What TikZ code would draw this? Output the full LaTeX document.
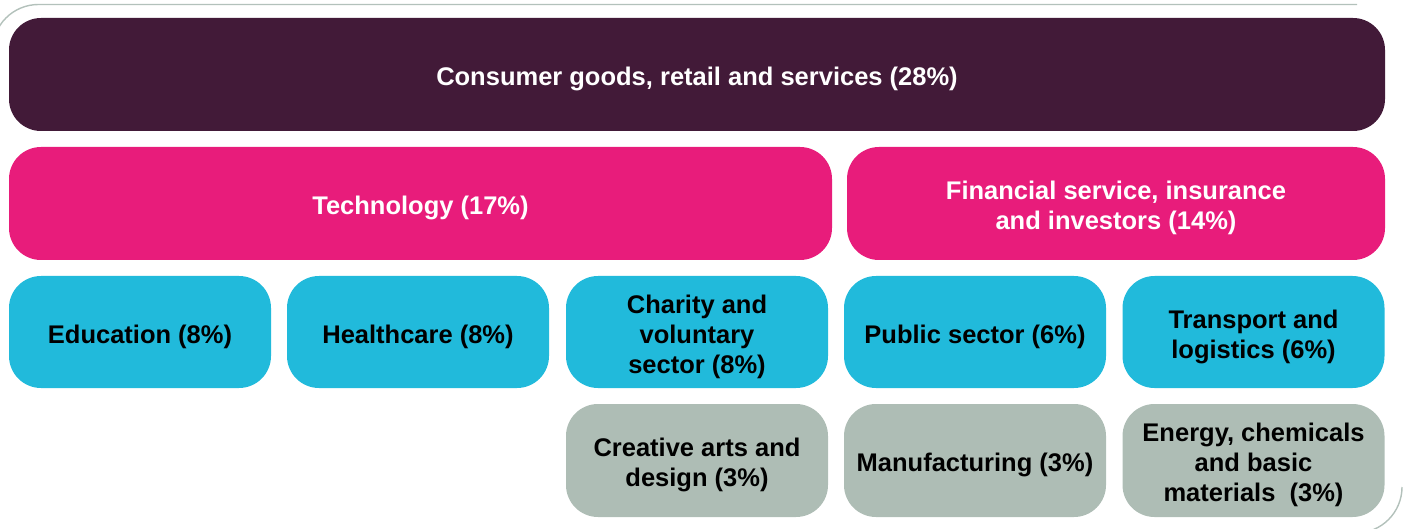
\documentclass[tikz,border=0pt]{standalone}
\usepackage{fontspec}
\setmainfont{Liberation Sans}
\definecolor{cPurple}{HTML}{421A38}
\definecolor{cPink}{HTML}{E81C7B}
\definecolor{cCyan}{HTML}{21BADB}
\definecolor{cGray}{HTML}{AEBDB5}
\definecolor{cFrame}{HTML}{B3C1BB}
\tikzset{
  box/.style={rounded corners=32pt, inner sep=0pt},
  txt/.style={inner sep=0pt, align=center, font=\fontsize{25.5}{30}\selectfont\bfseries},
  topbox/.style={box, fill=cPurple, minimum height=113pt},
  midbox/.style={box, fill=cPink, minimum height=113pt},
  cyanbox/.style={box, fill=cCyan, minimum width=262pt, minimum height=112pt},
  graybox/.style={box, fill=cGray, minimum width=262pt, minimum height=113pt},
  frame/.style={draw=cFrame, line width=1.4pt, rounded corners=46pt}
}
% #1 box style, #2 name, #3 position, #4 text colour, #5 text
\newcommand\labelledbox[5]{%
  \node[#1] (#2) at (#3) {};
  \node[txt, text=#4] (#2-text) at ([yshift=-4.5pt]#2.center) {#5};
}
\begin{document}
\begin{tikzpicture}[x=1pt,y=-1pt]
\useasboundingbox (0,0) rectangle (1410,529);
\draw[frame] (-7.5,50.5) -- (-7.5,4.5) -- (1357,4.5);
\draw[frame] (1402,487) -- (1402,533) -- (1356,533);
\labelledbox{topbox, minimum width=1376pt}{consumer}{697,74.5}{white}{Consumer goods, retail and services (28\%)}
\labelledbox{midbox, minimum width=823pt}{tech}{420.5,203.5}{white}{Technology (17\%)}
\labelledbox{midbox, minimum width=538pt}{fin}{1116,203.5}{white}{Financial service, insurance\\and investors (14\%)}
\labelledbox{cyanbox}{edu}{140,332}{black}{Education (8\%)}
\labelledbox{cyanbox}{health}{418,332}{black}{Healthcare (8\%)}
\labelledbox{cyanbox}{charity}{697,332}{black}{Charity and\\voluntary\\sector (8\%)}
\labelledbox{cyanbox}{public}{975,332}{black}{Public sector (6\%)}
\labelledbox{cyanbox}{transport}{1253.5,332}{black}{Transport and\\logistics (6\%)}
\labelledbox{graybox}{creative}{697,460.5}{black}{Creative arts and\\design (3\%)}
\labelledbox{graybox}{manuf}{975,460.5}{black}{Manufacturing (3\%)}
\labelledbox{graybox}{energy}{1253.5,460.5}{black}{Energy, chemicals\\and basic\\materials\ \ (3\%)}
\end{tikzpicture}
\end{document}
